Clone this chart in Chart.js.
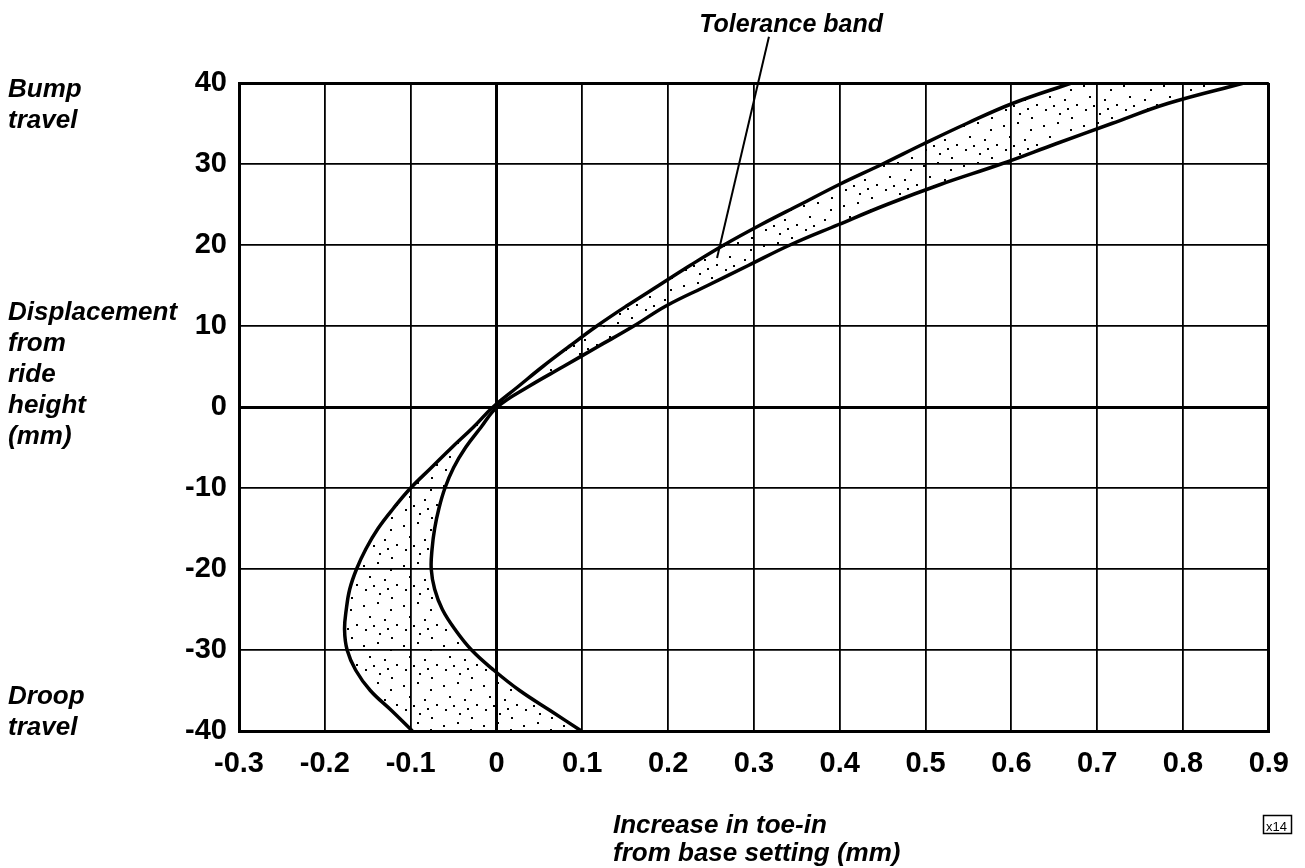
<!DOCTYPE html>
<html><head><meta charset="utf-8">
<script src="https://cdn.jsdelivr.net/npm/chart.js@4.4.1/dist/chart.umd.min.js"></script>
<style>html,body{margin:0;padding:0;background:#fff}#wrap{width:1305px;height:868px;position:relative}</style>
</head><body><div id="wrap"><canvas id="c"></canvas></div>
<script>
// ---- data ----
const xTicks = [-0.3,-0.2,-0.1,0,0.1,0.2,0.3,0.4,0.5,0.6,0.7,0.8,0.9];
const xTickLabels = ['-0.3','-0.2','-0.1','0','0.1','0.2','0.3','0.4','0.5','0.6','0.7','0.8','0.9'];
const yTicks = [-40,-30,-20,-10,0,10,20,30,40];
const yTickLabels = ['-40','-30','-20','-10','0','10','20','30','40'];

// bump/droop displacement (mm) at which both band limits were read
const displacement = [-40,-37.5,-35,-32.5,-30,-27.5,-25,-22.5,-20,-17.5,-15,-12.5,-10,-7.5,-5,-2.5,0,
                      2.5,5,7.5,10,12.5,15,17.5,20,22.5,25,27.5,30,32.5,35,37.5,40];
// outer (upper/left) limit of tolerance band: toe-in change (mm)
const outerToe = [-0.098,-0.122,-0.147,-0.164,-0.174,-0.177,-0.175,-0.171,-0.163,-0.152,-0.138,-0.120,-0.100,-0.076,-0.052,-0.027,-0.004,
                  0.025,0.054,0.085,0.117,0.152,0.189,0.226,0.265,0.308,0.354,0.400,0.450,0.498,0.548,0.602,0.670];
// inner (lower/right) limit of tolerance band: toe-in change (mm)
const innerToe = [0.099,0.063,0.027,-0.003,-0.029,-0.048,-0.063,-0.072,-0.076,-0.075,-0.072,-0.067,-0.060,-0.050,-0.036,-0.018,0.001,
                  0.037,0.078,0.119,0.160,0.198,0.246,0.294,0.342,0.398,0.455,0.518,0.588,0.652,0.717,0.783,0.871];

const leaderFrom = {x: 0.3175, y: 45.7};
const leaderTo = {x: 0.257, y: 18.4};

// ---- styling helpers ----
function stipple(){
  const c = document.createElement('canvas'); c.width = 40; c.height = 40;
  const g = c.getContext('2d'); g.fillStyle = '#000';
  const dots = [[3,5],[17,2],[30,9],[9,16],[24,19],[36,24],[5,29],[19,33],[31,37],[13,25],[27,28]];
  dots.forEach(d => g.fillRect(d[0], d[1], 2, 2));
  return g.createPattern(c, 'repeat');
}
const pts = (xs, ys) => xs.map((x,i) => ({x, y: ys[i]}));
const FONT = '"Liberation Sans", Arial, Helvetica, sans-serif';

const decor = {
  id: 'decor',
  afterDraw(chart){
    const ctx = chart.ctx, xs = chart.scales.x, ys = chart.scales.y;
    ctx.save();
    ctx.strokeStyle = '#000'; ctx.lineWidth = 2;
    ctx.beginPath();
    ctx.moveTo(xs.getPixelForValue(leaderFrom.x), ys.getPixelForValue(leaderFrom.y));
    ctx.lineTo(xs.getPixelForValue(leaderTo.x), ys.getPixelForValue(leaderTo.y));
    ctx.stroke();
    ctx.fillStyle = '#000';
    ctx.textBaseline = 'alphabetic';
    ctx.font = 'italic bold 25px ' + FONT;
    ctx.textAlign = 'right';
    ctx.fillText('Tolerance band', 883, 32);
    ctx.textAlign = 'left';
    ctx.font = 'italic bold 26px ' + FONT;
    const left = [['Bump',97],['travel',128],['Displacement',320],['from',351],['ride',382],['height',413],['(mm)',444],['Droop',704],['travel',735]];
    left.forEach(t => ctx.fillText(t[0], 8, t[1]));
    ctx.fillText('Increase in toe-in', 613, 833);
    ctx.fillText('from base setting (mm)', 613, 861);
    ctx.lineWidth = 1.5;
    ctx.strokeRect(1263.5, 815.5, 28, 18);
    ctx.font = '13px ' + FONT;
    ctx.fillText('x14', 1266, 831);
    ctx.restore();
  }
};

const gridW = (ctx, extremes) => {
  const v = ctx.tick ? ctx.tick.value : null;
  if (v === 0) return 3;
  if (extremes.includes(v)) return 3;
  return 1.8;
};

new Chart(document.getElementById('c'), {
  type: 'line',
  data: {
    datasets: [
      { label: 'Outer limit', data: pts(outerToe, displacement), borderColor: '#000', borderWidth: 3.5,
        pointRadius: 0, fill: false, tension: 0.4 },
      { label: 'Inner limit', data: pts(innerToe, displacement), borderColor: '#000', borderWidth: 3.5,
        pointRadius: 0, fill: '-1', backgroundColor: stipple(), tension: 0.4 }
    ]
  },
  options: {
    indexAxis: 'y',
    responsive: true, maintainAspectRatio: false, animation: false,
    layout: { padding: { left: 0, top: 83, right: 30, bottom: 0 } },
    plugins: { legend: { display: false }, tooltip: { enabled: false }, filler: { drawTime: 'beforeDatasetsDraw' } },
    scales: {
      x: {
        type: 'linear', position: 'bottom', min: -0.3, max: 0.9,
        afterBuildTicks: s => { s.ticks = xTicks.map(v => ({value: v})); },
        afterFit: s => { s.height = 137; },
        ticks: { color: '#000', padding: 16, font: { family: FONT, size: 29, weight: 'bold' },
          callback: (v) => { const i = xTicks.findIndex(t => Math.abs(t - v) < 1e-9); return i >= 0 ? xTickLabels[i] : ''; } },
        grid: { color: '#000', drawTicks: false, lineWidth: c => gridW(c, [-0.3, 0.9]) },
        border: { display: true, color: '#000', width: 3 }
      },
      y: {
        type: 'linear', position: 'left', min: -40, max: 40,
        afterBuildTicks: s => { s.ticks = yTicks.map(v => ({value: v})); },
        afterFit: s => { s.width = 239; },
        ticks: { color: '#000', padding: 12, font: { family: FONT, size: 29, weight: 'bold' },
          callback: (v) => { const i = yTicks.indexOf(v); return i >= 0 ? yTickLabels[i] : ''; } },
        grid: { color: '#000', drawTicks: false, lineWidth: c => gridW(c, [-40, 40]) },
        border: { display: true, color: '#000', width: 3 }
      }
    }
  },
  plugins: [decor]
});
</script></body></html>
